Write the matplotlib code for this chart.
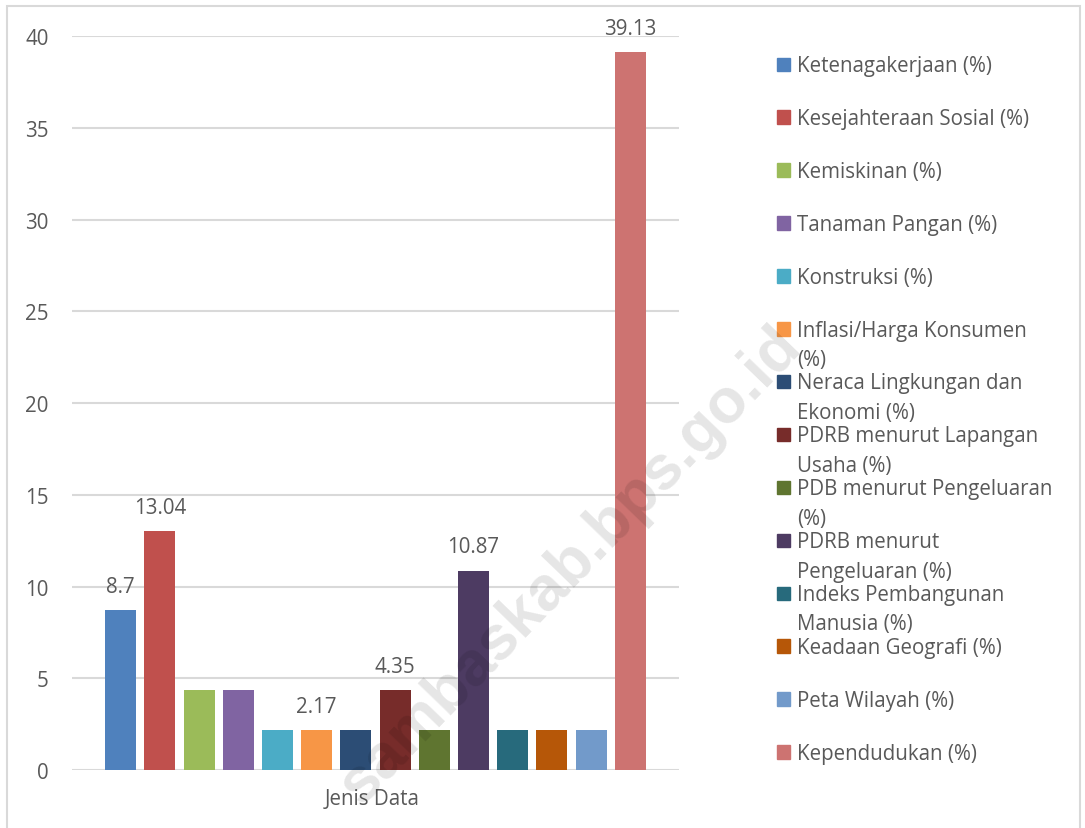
import matplotlib.pyplot as plt
from matplotlib.patches import Rectangle

# data
categories = [
    "Ketenagakerjaan (%)",
    "Kesejahteraan Sosial (%)",
    "Kemiskinan (%)",
    "Tanaman Pangan (%)",
    "Konstruksi (%)",
    "Inflasi/Harga Konsumen\n(%)",
    "Neraca Lingkungan dan\nEkonomi (%)",
    "PDRB menurut Lapangan\nUsaha (%)",
    "PDB menurut Pengeluaran\n(%)",
    "PDRB menurut\nPengeluaran (%)",
    "Indeks Pembangunan\nManusia (%)",
    "Keadaan Geografi (%)",
    "Peta Wilayah (%)",
    "Kependudukan (%)",
]
values = [8.7, 13.04, 4.35, 4.35, 2.17, 2.17, 2.17, 4.35, 2.17, 10.87, 2.17, 2.17, 2.17, 39.13]
labelled = [0, 1, 5, 7, 9, 13]  # bars that carry a data label
colors = ["#4F81BD", "#C0504D", "#9BBB59", "#8064A2", "#4BACC6", "#F79646", "#2C4D75",
          "#772C2A", "#5F7530", "#4D3B62", "#276A7C", "#B65708", "#729ACA", "#CD7371"]
x_label = "Jenis Data"
y_ticks = [0, 5, 10, 15, 20, 25, 30, 35, 40]

text_color = "#595959"
grid_color = "#D9D9D9"
fs = 14.8
plt.rcParams["font.family"] = ["Open Sans", "DejaVu Sans"]

W, H = 1085, 829
fig = plt.figure(figsize=(W / 100, H / 100), dpi=100)

# outer chart border
fig.patches.append(Rectangle((7 / W, -0.02), 1073 / W, 1 - 7 / H + 0.02,
                             transform=fig.transFigure, fill=False,
                             edgecolor=grid_color, linewidth=1.5))

ax = fig.add_axes([72 / W, 58 / H, 607 / W, 734 / H])
n = len(values)
for i, v in enumerate(values):
    ax.bar(i, v, width=0.79, color=colors[i], zorder=2)
    if i in labelled:
        ax.annotate(f"{v:g}", (i, v), xytext=(0, 13), textcoords="offset points",
                    ha="center", va="baseline", fontsize=fs, color=text_color,
                    annotation_clip=False)

ax.set_xlim(-1.24, n - 1 + 1.24)
ax.set_ylim(0, 40)
ax.set_yticks(y_ticks)
ax.set_xticks([(n - 1) / 2 - 0.08])
ax.set_xticklabels([x_label])
ax.tick_params(axis="both", length=0, labelsize=fs, labelcolor=text_color)
ax.tick_params(axis="y", pad=17)
ax.tick_params(axis="x", pad=13)
ax.grid(axis="y", color=grid_color, linewidth=1.5, zorder=0)
for s in ax.spines.values():
    s.set_visible(False)

# legend drawn by hand so every entry gets the same slot height
first_base = 72
step = 52.9
line_h = 29.5
for i, name in enumerate(categories):
    base = first_base + i * step
    fig.patches.append(Rectangle((777 / W, 1 - base / H), 13 / W, 13.5 / H,
                                 transform=fig.transFigure, color=colors[i]))
    for k, line in enumerate(name.split("\n")):
        fig.text(797 / W, 1 - (base + k * line_h) / H, line, ha="left",
                 va="baseline", fontsize=fs, color=text_color)

# watermark
fig.text(582 / W, 1 - 577 / H, "sambaskab.bps.go.id", rotation=46,
         rotation_mode="anchor", ha="center", va="baseline", fontsize=45,
         fontweight="bold", family="Liberation Sans", color="black",
         alpha=0.10, zorder=10)

fig.savefig("out.png", dpi=100)
